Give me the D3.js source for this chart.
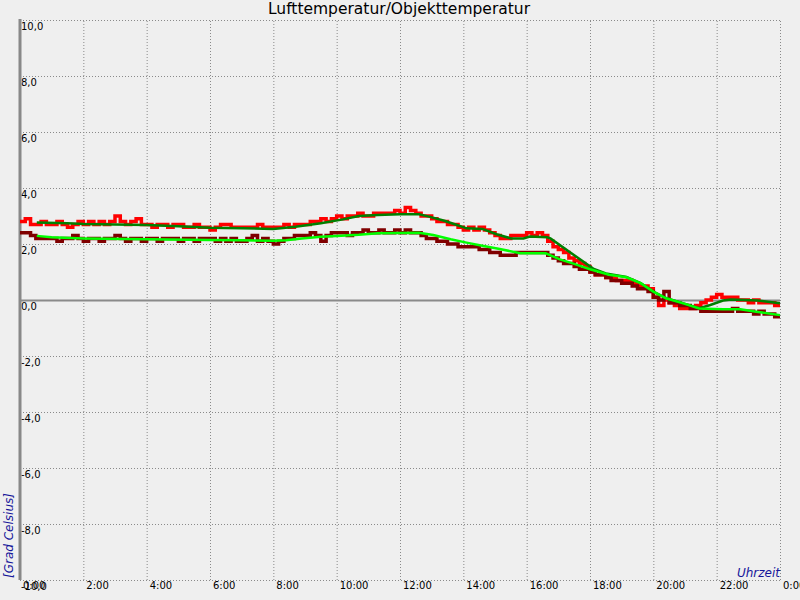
<!DOCTYPE html>
<html><head><meta charset="utf-8">
<script src="https://cdn.jsdelivr.net/npm/d3@7"></script>
<style>
html,body{margin:0;padding:0;background:#efefef;}
svg{display:block;}
text{font-family:"DejaVu Sans",sans-serif;}
</style></head>
<body>
<svg id="c" width="800" height="600"></svg>
<script>
// ---- data ----
const title = "Lufttemperatur/Objekttemperatur";
const yAxisLabel = "[Grad Celsius]";
const xAxisLabel = "Uhrzeit";
const yTicks = [-10, -8, -6, -4, -2, 0, 2, 4, 6, 8, 10];
const xTicksHours = [0, 2, 4, 6, 8, 10, 12, 14, 16, 18, 20, 22, 24];
const xTickLabels = ["0:00","2:00","4:00","6:00","8:00","10:00","12:00","14:00","16:00","18:00","20:00","22:00","0:00"];
const rawStepMinutes = 10;

// Lufttemperatur raw (red), one value every 10 minutes from 0:00 to 24:00
const lufttemperatur = [
 2.8,2.9,2.7,2.7,2.8,2.7, 2.7,2.8,2.7,2.6,2.7,2.8, 2.7,2.8,2.7,2.8,2.7,2.8, 3.0,2.8,2.7,2.8,2.9,2.7,
 2.7,2.6,2.7,2.7,2.6,2.7, 2.7,2.6,2.6,2.7,2.6,2.6, 2.5,2.6,2.7,2.7,2.6,2.6, 2.6,2.6,2.6,2.7,2.6,2.6,
 2.6,2.6,2.7,2.6,2.7,2.7, 2.7,2.8,2.8,2.9,2.8,2.9, 3.0,2.9,3.0,3.0,3.1,3.0, 3.0,3.1,3.1,3.1,3.1,3.2,
 3.1,3.3,3.2,3.1,3.0,3.0, 2.9,2.8,2.8,2.7,2.7,2.6, 2.5,2.6,2.5,2.6,2.5,2.4, 2.3,2.2,2.2,2.3,2.3,2.3,
 2.4,2.3,2.4,2.3,2.1,1.9, 1.8,1.7,1.5,1.4,1.3,1.2, 1.0,0.9,0.9,0.8,0.8,0.7, 0.7,0.7,0.6,0.5,0.5,0.4,
 0.1,-0.2,0.0,-0.1,-0.2,-0.3, -0.3,-0.3,-0.2,-0.1,0.0,0.1, 0.2,0.1,0.1,0.1,0.0,0.0, -0.1,0.0,-0.1,-0.1,-0.1,-0.2,
 -0.2
];
// Objekttemperatur raw (dark red)
const objekttemperatur = [
 2.4,2.4,2.3,2.2,2.2,2.2, 2.2,2.1,2.2,2.2,2.3,2.2, 2.1,2.2,2.2,2.1,2.2,2.2, 2.3,2.2,2.1,2.2,2.2,2.1,
 2.2,2.2,2.1,2.2,2.2,2.2, 2.1,2.2,2.2,2.1,2.2,2.2, 2.2,2.1,2.2,2.1,2.2,2.1, 2.1,2.2,2.3,2.1,2.2,2.1,
 2.0,2.1,2.2,2.2,2.3,2.3, 2.3,2.4,2.3,2.1,2.3,2.4, 2.4,2.4,2.3,2.4,2.4,2.5, 2.4,2.4,2.5,2.4,2.4,2.5,
 2.4,2.5,2.4,2.4,2.3,2.2, 2.2,2.1,2.1,2.0,2.0,1.9, 1.9,1.9,1.9,1.8,1.8,1.7, 1.7,1.6,1.6,1.6,1.7,1.7,
 1.7,1.7,1.7,1.7,1.6,1.5, 1.4,1.3,1.3,1.2,1.1,1.1, 1.0,0.9,0.9,0.8,0.7,0.7, 0.6,0.6,0.5,0.4,0.4,0.3,
 0.1,0.0,0.3,-0.1,-0.1,-0.2, -0.2,-0.3,-0.3,-0.4,-0.4,-0.4, -0.4,-0.4,-0.4,-0.3,-0.4,-0.4, -0.4,-0.5,-0.4,-0.5,-0.5,-0.6,
 -0.6
];
// smoothed Lufttemperatur (dark green): [hour, value]
const luftSmoothHours = [0.53,1.5,2,3,4,5,6,7,8,8.7,9.5,10.2,10.7,11.3,12,12.6,12.95,13.4,13.8,14.1,14.6,15.05,15.5,15.9,16.1,16.65,16.75,18.1,18.5,19.15,19.6,20.0,20.4,20.95,21.45,21.8,22.2,22.45,23.3,24];
const luftSmooth      = [2.77,2.74,2.71,2.70,2.68,2.63,2.58,2.56,2.54,2.62,2.74,2.88,3.00,3.04,3.06,3.06,2.97,2.83,2.68,2.56,2.54,2.35,2.20,2.20,2.27,2.24,2.20,1.12,0.95,0.82,0.60,0.30,0.07,-0.12,-0.29,-0.18,-0.02,0.02,-0.02,-0.12];
// smoothed Objekttemperatur (bright green)
const objSmoothHours = [0.53,1,2,4,6,7,8,8.4,8.9,9.5,10,10.7,11.3,12,12.6,13.05,13.6,14.1,14.6,15.15,15.8,16.6,17.05,17.5,18,18.6,19.15,19.6,20,20.4,20.95,21.45,22.2,22.75,23.25,24];
const objSmooth      = [2.29,2.24,2.20,2.17,2.14,2.13,2.12,2.13,2.20,2.26,2.29,2.33,2.38,2.39,2.40,2.32,2.17,2.05,1.94,1.82,1.67,1.67,1.45,1.29,1.10,0.90,0.81,0.60,0.30,0.06,-0.12,-0.30,-0.33,-0.33,-0.42,-0.54];

// ---- chart ----
const svg = d3.select("#c");
const pLeft = 20, pRight = 780, pTop = 20, pBottom = 580;
const x = d3.scaleLinear().domain([0, 24]).range([pLeft, pRight]);
const y = d3.scaleLinear().domain([-10, 10]).range([pBottom, pTop]);
const gridColor = "#8a8a8a";

// vertical grid + x labels
const gx = svg.append("g").attr("transform", `translate(0,${pBottom})`)
  .call(d3.axisBottom(x).tickValues(xTicksHours).tickSize(-(pBottom - pTop)).tickPadding(3)
    .tickFormat((d, i) => xTickLabels[i]));
gx.select(".domain").remove();
gx.selectAll(".tick line").attr("stroke", gridColor).attr("stroke-dasharray", "1,2")
  .attr("opacity", d => d === 0 ? 0 : 1);
gx.selectAll(".tick text").attr("font-size", 10).attr("fill", "#000")
  .attr("y", 0).attr("dy", "9px")
  .attr("text-anchor", "start")
  .attr("x", 2.5)
  .attr("font-family", "DejaVu Sans, sans-serif");

// horizontal grid + y labels
const gy = svg.append("g").attr("transform", `translate(${pLeft},0)`)
  .call(d3.axisRight(y).tickValues(yTicks).tickSize(pRight - pLeft)
    .tickFormat(d => d3.format(".1f")(d).replace(".", ",").replace("−", "-")));
gy.select(".domain").remove();
gy.selectAll(".tick line").attr("stroke", gridColor)
  .attr("stroke-dasharray", d => d === 0 ? null : "1,2")
  .attr("stroke-width", d => d === 0 ? 2 : 1);
gy.selectAll(".tick text").attr("font-size", 10).attr("fill", "#000")
  .attr("x", 1).attr("dy", "9px").attr("y", 0)
  .attr("text-anchor", "start")
  .attr("font-family", "DejaVu Sans, sans-serif");

// left axis bar
svg.append("line").attr("x1", pLeft).attr("x2", pLeft).attr("y1", pTop - 1).attr("y2", pBottom)
  .attr("stroke", "#888").attr("stroke-width", 3);

// series
const rawLine = d3.line().x((d, i) => x(i * rawStepMinutes / 60)).y(d => y(d)).curve(d3.curveStepAfter);
const smLine = d3.line().x(d => x(d[0])).y(d => y(d[1]));

svg.append("path").datum(lufttemperatur).attr("d", rawLine)
  .attr("fill", "none").attr("stroke", "#ff0000").attr("stroke-width", 3.5);
svg.append("path").datum(objekttemperatur).attr("d", rawLine)
  .attr("fill", "none").attr("stroke", "#800000").attr("stroke-width", 3.5);
svg.append("path").datum(d3.zip(luftSmoothHours, luftSmooth)).attr("d", smLine)
  .attr("fill", "none").attr("stroke", "#008000").attr("stroke-width", 2.5);
svg.append("path").datum(d3.zip(objSmoothHours, objSmooth)).attr("d", smLine)
  .attr("fill", "none").attr("stroke", "#00ff00").attr("stroke-width", 2.5);

// titles
svg.append("text").attr("x", 399).attr("y", 13.5).attr("text-anchor", "middle")
  .attr("font-size", 15.5).attr("fill", "#000").text(title);
svg.append("text").attr("transform", `translate(13,578) rotate(-90)`)
  .attr("font-size", 12).attr("font-style", "italic").attr("fill", "#16169a").text(yAxisLabel);
svg.append("text").attr("x", 780).attr("y", 577).attr("text-anchor", "end")
  .attr("font-size", 12).attr("font-style", "italic").attr("fill", "#16169a").text(xAxisLabel);
</script>
</body></html>
